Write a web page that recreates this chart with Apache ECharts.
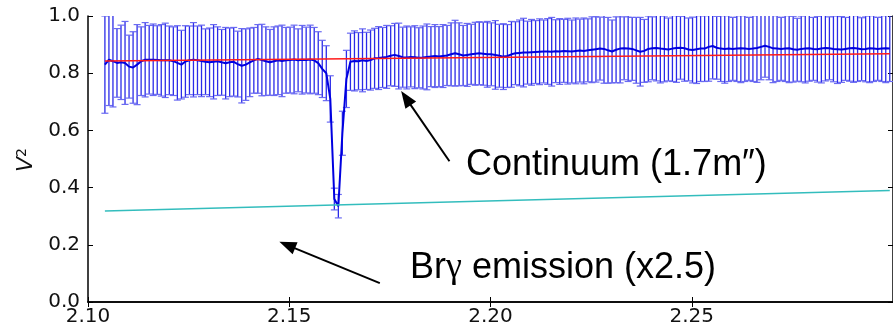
<!DOCTYPE html>
<html>
<head>
<meta charset="utf-8">
<script src="https://cdn.jsdelivr.net/npm/echarts@6/dist/echarts.min.js"></script>
<style>
html,body{margin:0;padding:0;background:#fff;}
#chart{width:893px;height:327px;}
</style>
</head>
<body>
<div id="chart"></div>
<script>
// ---- data ----
const WL_START = 2.1042;   // first wavelength (micron)
const WL_STEP = 0.001;     // spectral sampling (micron)

const V2 = [
  0.83,0.847,0.842,0.836,0.838,0.836,0.823,0.82,0.83,0.842,0.847,0.847,0.847,0.846,0.845,0.845,0.845,0.842,0.836,0.83,0.841,0.845,0.847,
  0.845,0.843,0.84,0.838,0.84,0.842,0.838,0.835,0.838,0.84,0.832,0.826,0.83,0.838,0.845,0.85,0.846,0.842,0.838,0.842,0.845,0.843,0.845,
  0.846,0.848,0.845,0.847,0.846,0.848,0.845,0.835,
  0.815,0.80,0.71,0.36,0.335,0.59,0.78,
  0.84,0.843,0.842,0.845,0.843,0.846,
  0.852,0.853,0.855,0.857,0.861,0.864,0.86,0.856,0.855,0.857,0.856,0.854,0.855,0.857,0.858,0.86,0.858,0.86,0.862,0.866,0.87,0.866,0.862,0.864,0.866,0.868,0.87,
  0.868,0.866,0.866,0.864,0.861,0.858,0.86,0.866,0.87,0.871,0.872,0.872,0.873,0.874,0.875,0.876,0.876,0.875,0.877,0.876,0.878,0.877,0.876,0.878,0.879,0.878,0.88,0.882,
  0.884,0.886,0.885,0.88,0.876,0.882,0.886,0.887,0.886,0.885,0.88,0.875,0.878,0.885,0.887,0.888,0.886,0.885,0.883,0.886,0.888,0.889,0.887,0.883,0.881,0.884,0.886,
  0.886,0.892,0.895,0.889,0.886,0.885,0.886,0.885,0.886,0.887,0.886,0.885,0.886,0.888,0.892,0.896,0.892,0.887,0.886,0.885,0.886,0.887,0.884,0.882,0.885,0.886,0.887,0.885,0.884,0.886,0.888,0.887,0.885,0.884,0.883,0.885,0.887,0.888,0.886,0.884,0.885,0.887,0.886,0.885,0.886,0.887,0.886
];

const V2_ERR = [
  0.17,0.16,0.16,0.12,0.13,0.145,0.11,0.125,0.14,0.12,0.13,0.12,0.125,0.12,0.125,0.13,0.12,0.12,0.13,0.12,0.125,0.12,0.13,
  0.12,0.125,0.115,0.12,0.13,0.12,0.115,0.125,0.12,0.12,0.115,0.13,0.125,0.12,0.115,0.12,0.125,0.12,0.115,0.12,0.12,0.125,0.115,
  0.115,0.12,0.11,0.12,0.115,0.12,0.115,0.11,
  0.10,0.096,0.081,0.038,0.041,0.077,0.10,
  0.10,0.105,0.10,0.11,0.10,0.105,
  0.105,0.11,0.105,0.11,0.105,0.11,0.115,0.105,0.11,0.105,0.11,0.105,0.11,0.115,0.105,0.11,0.105,0.11,0.105,0.11,0.115,0.11,0.105,0.11,0.105,0.11,0.11,
  0.11,0.115,0.11,0.12,0.11,0.115,0.11,0.115,0.11,0.115,0.12,0.11,0.115,0.11,0.115,0.11,0.115,0.12,0.11,0.115,0.11,0.115,0.11,0.115,0.11,0.115,0.11,0.115,
  0.115,0.11,0.12,0.115,0.11,0.115,0.12,0.11,0.115,0.11,0.115,0.12,0.11,0.115,0.11,0.115,0.12,0.115,0.11,0.115,0.12,0.11,0.115,0.11,0.115,0.12,0.115,
  0.115,0.12,0.115,0.11,0.115,0.12,0.115,0.11,0.115,0.12,0.115,0.11,0.115,0.12,0.115,0.11,0.115,0.12,0.115,0.11,0.115,0.12,0.115,0.11,0.115,0.12,0.115,0.11,0.115,0.12,0.115,0.11,0.115,0.12,0.115,0.11,0.115,0.12,0.115,0.11,0.115,0.12,0.115,0.11,0.115,0.12,0.115
];

// continuum model (red) and Br-gamma emission model (cyan): end points
const CONT_WL = [2.1042, 2.2992];
const CONT_V2 = [0.843, 0.868];
const BRG_WL = [2.1042, 2.2992];
const BRG_V2 = [0.318, 0.39];

const X_TICKS = [2.10, 2.15, 2.20, 2.25];
const Y_TICKS = [0.0, 0.2, 0.4, 0.6, 0.8, 1.0];

// annotation arrows: [tail, head] in data coordinates
const ARROW_CONT = [[2.1898, 0.492], [2.1790, 0.713]];
const ARROW_BRG = [[2.1725, 0.066], [2.1495, 0.199]];

// ---- build ----
const obs = V2.map((v, i) => [WL_START + i * WL_STEP, v, V2_ERR[i]]);
const obsLine = obs.map(d => [d[0], d[1]]);
const contLine = CONT_WL.map((w, i) => [w, CONT_V2[i]]);
const brgLine = BRG_WL.map((w, i) => [w, BRG_V2[i]]);

const chart = echarts.init(document.getElementById('chart'), null, {renderer: 'canvas'});

const tickFont = {fontFamily: 'DejaVu Sans', fontSize: 20, color: '#111'};
const spine = {show: true, lineStyle: {color: '#000', width: 1.5}};
const annFont = {fontFamily: '"Liberation Sans", Arial, sans-serif', fontSize: 36, fill: '#000', color: '#000'};

const option = {
  animation: false,
  backgroundColor: '#fff',
  grid: {left: 88, right: -1, top: 16, bottom: 24, show: false},
  xAxis: [{
    type: 'value', min: 2.1, max: 2.3, interval: 0.05, position: 'bottom',
    axisLine: spine,
    axisTick: {show: true, inside: true, length: 5, lineStyle: {color: '#000', width: 1}},
    axisLabel: Object.assign({margin: 5, showMaxLabel: false,
      formatter: v => X_TICKS.some(t => Math.abs(t - v) < 1e-6) ? v.toFixed(2) : ''}, tickFont),
    splitLine: {show: false}
  }, {
    type: 'value', min: 2.1, max: 2.3, interval: 0.05, position: 'top',
    axisLine: spine,
    axisTick: {show: true, inside: true, length: 5, lineStyle: {color: '#000', width: 1}},
    axisLabel: {show: false}, splitLine: {show: false}
  }],
  yAxis: [{
    type: 'value', min: 0, max: 1, interval: 0.2, position: 'left',
    axisLine: spine,
    axisTick: {show: true, inside: true, length: 5, lineStyle: {color: '#000', width: 1}},
    axisLabel: Object.assign({margin: 8,
      formatter: v => Y_TICKS.some(t => Math.abs(t - v) < 1e-6) ? v.toFixed(1) : ''}, tickFont),
    splitLine: {show: false}
  }, {
    type: 'value', min: 0, max: 1, interval: 0.2, position: 'right',
    axisLine: spine,
    axisTick: {show: true, inside: true, length: 5, lineStyle: {color: '#000', width: 1}},
    axisLabel: {show: false}, splitLine: {show: false}
  }],
  graphic: [{
    type: 'text', x: 26, y: 160, rotation: Math.PI / 2,
    style: {
      text: '{v|V}{s|2}',
      align: 'center', verticalAlign: 'middle',
      textAlign: 'center', textVerticalAlign: 'middle',
      fill: '#000',
      rich: {
        v: {fontFamily: 'DejaVu Sans', fontStyle: 'italic', fontSize: 22, fill: '#111', color: '#111'},
        s: {fontFamily: 'DejaVu Sans', fontSize: 14, verticalAlign: 'top', fill: '#111', color: '#111'}
      }
    }
  }, {
    type: 'text', left: 466, top: 147,
    style: {text: 'Continuum (1.7m\u2033)', font: '36px "Liberation Sans", Arial, sans-serif', fill: '#000'}
  }, {
    type: 'text', left: 410, top: 250,
    style: {
      text: '{a|Br}{g|\u03b3}{a| emission (x2.5)}',
      fill: '#000',
      rich: {
        a: annFont,
        g: {fontFamily: '"Liberation Serif", "DejaVu Serif", serif', fontSize: 36, fill: '#000', color: '#000'}
      }
    }
  }],
  series: [{
    type: 'custom',
    name: 'errors',
    clip: true,
    z: 1,
    encode: {x: 0, y: 1},
    data: obs,
    renderItem: function (params, api) {
      const x = api.value(0), y = api.value(1), e = api.value(2);
      const top = api.coord([x, y + e]);
      const bot = api.coord([x, y - e]);
      const h = 3.5;
      return {
        type: 'group',
        children: [
          {type: 'line', shape: {x1: top[0], y1: top[1], x2: bot[0], y2: bot[1]},
           style: {stroke: '#2b2be8', lineWidth: 1.3}},
          {type: 'line', shape: {x1: top[0] - h, y1: top[1], x2: top[0] + h, y2: top[1]},
           style: {stroke: '#6b6bf2', lineWidth: 1.2}},
          {type: 'line', shape: {x1: bot[0] - h, y1: bot[1], x2: bot[0] + h, y2: bot[1]},
           style: {stroke: '#6b6bf2', lineWidth: 1.2}}
        ]
      };
    }
  }, {
    type: 'line', name: 'V2', data: obsLine, z: 2,
    showSymbol: false, symbol: 'none',
    lineStyle: {color: '#0000e0', width: 2}
  }, {
    type: 'line', name: 'continuum', data: contLine, z: 3,
    showSymbol: false, symbol: 'none',
    lineStyle: {color: '#ff1a1a', width: 1.5}
  }, {
    type: 'line', name: 'brg', data: brgLine, z: 3,
    showSymbol: false, symbol: 'none',
    lineStyle: {color: '#33bdbd', width: 1.6},
    markLine: {
      silent: true,
      symbol: ['none', 'triangle'],
      symbolSize: [13, 17],
      label: {show: false},
      lineStyle: {color: '#000', width: 2, type: 'solid'},
      itemStyle: {color: '#000'},
      data: [
        [{coord: ARROW_CONT[0]}, {coord: ARROW_CONT[1]}],
        [{coord: ARROW_BRG[0]}, {coord: ARROW_BRG[1]}]
      ]
    }
  }]
};
chart.setOption(option);
</script>
</body>
</html>
